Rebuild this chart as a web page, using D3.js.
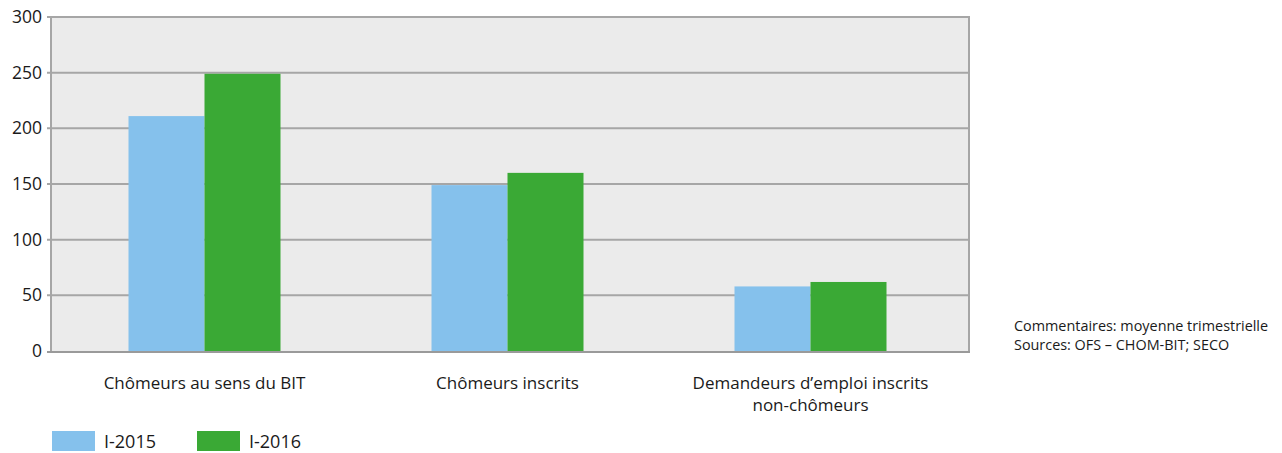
<!DOCTYPE html>
<html><head><meta charset="utf-8">
<script src="https://cdn.jsdelivr.net/npm/d3@7"></script>
<style>body{margin:0;background:#fff;} svg{display:block;font-family:"Open Sans",sans-serif;}</style>
</head><body>
<svg id="c" width="1282" height="453"></svg>
<script>
const categories = ["Chômeurs au sens du BIT", "Chômeurs inscrits", "Demandeurs d\u2019emploi inscrits|non-chômeurs"];
const seriesNames = ["I-2015", "I-2016"];
const values2015 = [211, 149, 58];
const values2016 = [249, 160, 62];
const yTicks = [0, 50, 100, 150, 200, 250, 300];
const colors = ["#85c1ec", "#3aa935"];
const notes = ["Commentaires: moyenne trimestrielle", "Sources: OFS \u2013 CHOM-BIT; SECO"];

const svg = d3.select("#c");
const L = 51, R = 969, T = 17, B = 351;
const y = d3.scaleLinear().domain([0, 300]).range([B, T]);
const x = d3.scaleBand().domain(categories).range([53, 962]).paddingInner(0).paddingOuter(0);
const x1 = d3.scaleBand().domain(seriesNames).range([x.bandwidth()/2 - 76, x.bandwidth()/2 + 76]);

svg.append("rect").attr("x", L).attr("y", T).attr("width", R - L).attr("height", B - T).attr("fill", "#ebebeb");

svg.append("g").selectAll("line").data(yTicks.filter(d => d > 0)).join("line")
  .attr("x1", L - 4).attr("x2", R).attr("y1", d => y(d)).attr("y2", d => y(d))
  .attr("stroke", "#a6a6a6").attr("stroke-width", 2);

const data = categories.map((c, i) => ({c, vals: [values2015[i], values2016[i]]}));
const g = svg.append("g").selectAll("g").data(data).join("g")
  .attr("transform", d => `translate(${x(d.c)},0)`);
g.selectAll("rect").data(d => d.vals.map((v, j) => ({v, s: seriesNames[j], j}))).join("rect")
  .attr("x", d => x1(d.s)).attr("width", x1.bandwidth())
  .attr("y", d => y(d.v)).attr("height", d => B - y(d.v))
  .attr("fill", d => colors[d.j]);

svg.append("line").attr("x1", L).attr("x2", L).attr("y1", T - 1).attr("y2", B + 1).attr("stroke", "#a6a6a6").attr("stroke-width", 2);
svg.append("line").attr("x1", R).attr("x2", R).attr("y1", T - 1).attr("y2", B + 1).attr("stroke", "#a6a6a6").attr("stroke-width", 2);
svg.append("line").attr("x1", L - 4).attr("x2", R + 1).attr("y1", B + 1).attr("y2", B + 1).attr("stroke", "#9a9a9a").attr("stroke-width", 2);

svg.append("g").selectAll("text").data(yTicks).join("text")
  .attr("x", 42).attr("y", d => y(d) + 6).attr("text-anchor", "end")
  .attr("font-size", 17.5).attr("fill", "#1a1a1a").text(d => d);

const cl = svg.append("g").selectAll("text").data(categories).join("text")
  .attr("text-anchor", "middle").attr("font-size", 17).attr("fill", "#1a1a1a")
  .attr("transform", d => `translate(${x(d) + x.bandwidth()/2},389)`);
cl.selectAll("tspan").data(d => d.split("|")).join("tspan")
  .attr("x", 0).attr("dy", (d, i) => i ? 22 : 0).text(d => d);

const lg = svg.append("g").selectAll("g").data(seriesNames).join("g")
  .attr("transform", (d, i) => `translate(${52 + i * 145},431)`);
lg.append("rect").attr("width", 43).attr("height", 20).attr("fill", (d, i) => colors[i]);
lg.append("text").attr("x", 52).attr("y", 17).attr("font-size", 18).attr("fill", "#1a1a1a").text(d => d);

svg.append("g").selectAll("text").data(notes).join("text")
  .attr("x", 1014).attr("y", (d, i) => 331 + i * 19).attr("font-size", 14.4).attr("fill", "#1a1a1a").text(d => d);
</script>
</body></html>
